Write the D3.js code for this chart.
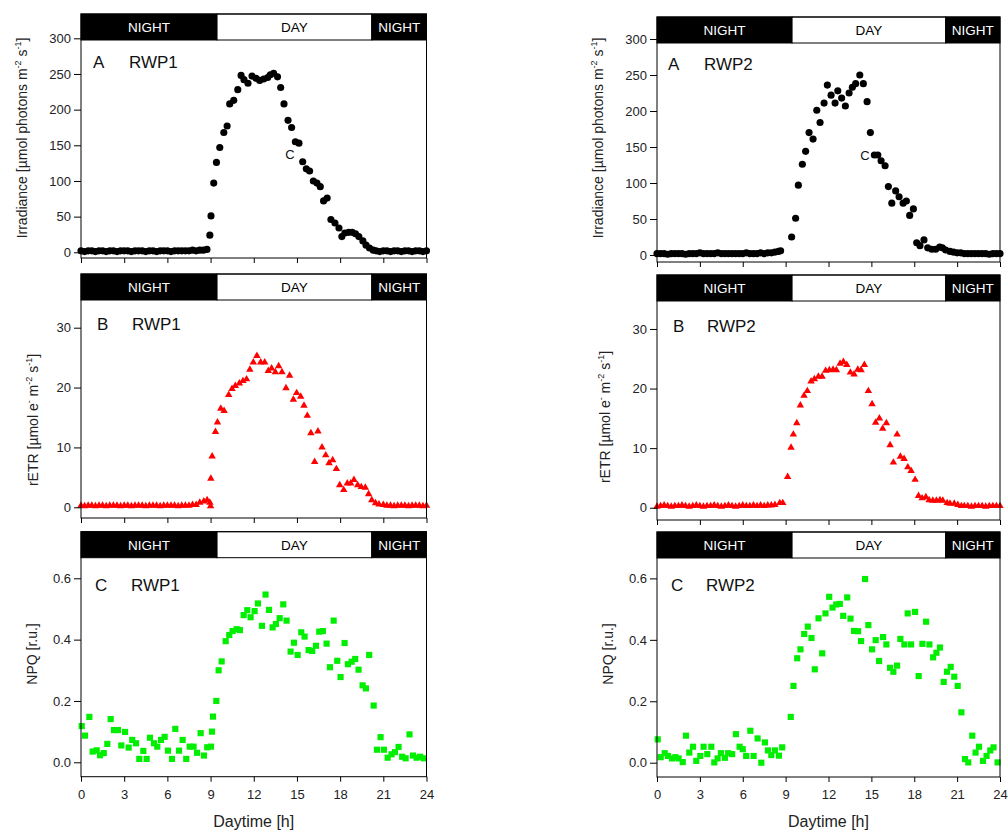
<!DOCTYPE html>
<html><head><meta charset="utf-8">
<script src="https://cdn.jsdelivr.net/npm/d3@7"></script>
<style>body{margin:0;background:#fff}svg{display:block}text{font-family:"Liberation Sans",Arial,sans-serif}</style>
</head><body><svg id="c" width="1008" height="831"></svg>
<script>
// ---------- data ----------
const xTicks = [0,3,6,9,12,15,18,21,24];
const irrTicks = [0,50,100,150,200,250,300];
const etrTicks = [0,10,20,30];
const npqTicks = [0,0.2,0.4,0.6];
const bandLabels = ["NIGHT","DAY","NIGHT"];
const dayStart = 9.45, dayEnd = 20.2;

const irrRWP1 = [[0,2],[0.25,1],[0.5,2],[0.75,2],[1,1],[1.25,2],[1.5,2],[1.75,1],[2,2],[2.25,2],[2.5,1],[2.75,2],[3,2],[3.25,2],[3.5,1],[3.75,2],[4,2],[4.25,2],[4.5,1],[4.75,2],[5,2],[5.25,1],[5.5,2],[5.75,2],[6,2],[6.25,1],[6.5,2],[6.75,2],[7,2],[7.25,2],[7.5,2],[7.75,3],[8,2],[8.25,3],[8.5,3],[8.75,4],
[8.95,24],[9.03,51],[9.22,97],[9.41,126],[9.64,147],[9.92,168],[10.15,177],[10.33,208],[10.61,213],[10.89,228],[11.12,248],[11.32,242],[11.6,237],[11.88,247],[12.16,244],[12.41,241],[12.69,243],[12.97,245],[13.15,249],[13.38,251],[13.65,246],[13.87,231],[14.1,208],[14.38,185],[14.63,175],[14.89,155],[15.14,153],[15.4,127],[15.65,117],[15.88,114],[16.14,100],[16.39,97],[16.62,92],[16.85,72],[17.1,76],[17.36,46],[17.64,41],[17.92,34],[18.12,22],[18.33,27],[18.6,28],[18.84,28],[19.07,26],[19.3,22],[19.58,16],[19.8,10],[20.04,6],[20.3,3],
[20.5,2],[20.75,1],[21,2],[21.25,2],[21.5,1],[21.75,2],[22,2],[22.25,1],[22.5,2],[22.75,2],[23,1],[23.25,2],[23.5,2],[23.75,1],[24,2]];

const irrRWP2 = [[0,2],[0.25,2],[0.5,2],[0.75,1],[1,2],[1.25,2],[1.5,2],[1.75,2],[2,1],[2.25,2],[2.5,2],[2.75,2],[3,3],[3.25,2],[3.5,2],[3.75,2],[4,2],[4.25,3],[4.5,2],[4.75,2],[5,2],[5.25,2],[5.5,2],[5.75,2],[6,2],[6.25,3],[6.5,2],[6.75,2],[7,2],[7.25,3],[7.5,2],[7.75,3],[8,3],[8.25,4],[8.5,5],[8.65,6],
[9.42,25],[9.7,51],[9.89,97],[10.17,126],[10.4,144],[10.64,170],[10.92,161],[11.18,201],[11.41,184],[11.69,211],[11.92,236],[12.18,222],[12.46,211],[12.65,228],[12.92,218],[13.18,207],[13.44,225],[13.67,233],[13.9,238],[14.19,250],[14.44,238],[14.7,213],[14.93,170],[15.21,139],[15.45,139],[15.68,131],[15.96,124],[16.19,95],[16.43,72],[16.7,89],[16.94,81],[17.22,72],[17.45,75],[17.68,55],[17.94,64],[18.17,17],[18.4,13],[18.68,21],[18.94,10],[19.22,8],[19.5,8],[19.78,11],[19.97,10],[20.2,7],[20.5,5],[20.75,4],[21,3],
[21.25,3],[21.5,2],[21.75,2],[22,2],[22.25,2],[22.5,2],[22.75,2],[23,2],[23.25,1],[23.5,2],[23.75,2],[24,2]];

const etrRWP1 = [[0,0.3],[0.25,0.2],[0.5,0.3],[0.75,0.3],[1,0.2],[1.25,0.3],[1.5,0.3],[1.75,0.2],[2,0.3],[2.25,0.3],[2.5,0.3],[2.75,0.2],[3,0.3],[3.25,0.3],[3.5,0.2],[3.75,0.3],[4,0.3],[4.25,0.3],[4.5,0.2],[4.75,0.3],[5,0.3],[5.25,0.3],[5.5,0.2],[5.75,0.3],[6,0.3],[6.25,0.3],[6.5,0.3],[6.75,0.2],[7,0.3],[7.25,0.3],[7.5,0.3],[7.75,0.4],[8,0.4],[8.25,0.8],[8.53,1.0],[8.76,1.2],[8.95,0.8],[9.0,0.2],
[9.02,4.8],[9.11,8.5],[9.34,12.6],[9.48,14.2],[9.71,16.5],[9.94,16.1],[10.26,18.8],[10.49,19.8],[10.72,20.3],[11.0,20.7],[11.25,21.1],[11.5,21.4],[11.73,23.0],[11.97,24.2],[12.22,25.3],[12.48,24.2],[12.76,24.2],[13.01,22.8],[13.24,23.2],[13.5,22.6],[13.73,23.6],[13.96,22.6],[14.24,19.9],[14.49,22.0],[14.75,18.0],[14.98,19.1],[15.26,18.5],[15.49,17.0],[15.72,15.3],[15.97,12.4],[16.23,7.6],[16.46,12.7],[16.74,10.0],[17.0,8.7],[17.23,7.4],[17.48,7.9],[17.74,6.4],[17.97,3.7],[18.25,2.9],[18.5,4.0],[18.73,4.0],[18.96,4.6],[19.22,3.7],[19.47,3.4],[19.75,3.3],[19.98,2.2],[20.2,1.2],[20.46,0.7],[20.7,0.5],[21.0,0.4],
[21.25,0.3],[21.5,0.3],[21.75,0.2],[22,0.3],[22.25,0.3],[22.5,0.3],[22.75,0.2],[23,0.3],[23.25,0.3],[23.5,0.3],[23.75,0.2],[24,0.3]];

const etrRWP2 = [[0,0.2],[0.25,0.3],[0.5,0.4],[0.75,0.3],[1,0.2],[1.25,0.3],[1.5,0.3],[1.75,0.4],[2,0.3],[2.25,0.2],[2.5,0.3],[2.75,0.4],[3,0.3],[3.25,0.2],[3.5,0.3],[3.75,0.3],[4,0.4],[4.25,0.3],[4.5,0.2],[4.75,0.3],[5,0.4],[5.25,0.3],[5.5,0.2],[5.75,0.3],[6,0.4],[6.25,0.3],[6.5,0.3],[6.75,0.4],[7,0.3],[7.25,0.4],[7.5,0.3],[7.75,0.4],[8,0.4],[8.25,0.5],[8.59,0.8],[8.8,0.8],
[9.14,5.2],[9.38,10.1],[9.54,12.3],[9.78,14.2],[10.03,17.2],[10.29,18.8],[10.52,19.6],[10.78,21.2],[11.01,21.6],[11.29,22.0],[11.55,22.0],[11.8,23.0],[12.06,23.1],[12.32,23.2],[12.55,23.1],[12.81,24.2],[13.04,24.5],[13.28,24.0],[13.53,22.7],[13.79,22.4],[14.05,23.2],[14.28,23.1],[14.51,24.0],[14.79,19.6],[15.05,17.4],[15.3,14.3],[15.56,15.0],[15.79,13.3],[16.05,14.2],[16.31,10.5],[16.54,7.6],[16.8,12.3],[17.03,8.6],[17.29,8.2],[17.55,6.8],[17.78,6.2],[18.06,4.7],[18.3,2.0],[18.55,1.6],[18.81,1.8],[19.04,1.3],[19.3,1.2],[19.55,1.2],[19.8,1.3],[20.0,1.2],[20.3,0.8],[20.5,0.7],[20.8,0.7],[21.05,0.5],[21.3,0.3],
[21.5,0.3],[21.75,0.3],[22,0.2],[22.25,0.3],[22.5,0.3],[22.75,0.3],[23,0.2],[23.25,0.3],[23.5,0.3],[23.75,0.3],[24,0.3]];

const npqRWP1 = [[0.05,0.118],[0.28,0.087],[0.58,0.148],[0.81,0.035],[1.09,0.039],[1.32,0.023],[1.58,0.03],[1.83,0.06],[2.06,0.141],[2.29,0.105],[2.57,0.105],[2.8,0.055],[3.06,0.099],[3.31,0.048],[3.56,0.073],[3.82,0.062],[4.05,0.011],[4.33,0.037],[4.56,0.011],[4.79,0.08],[5.07,0.062],[5.3,0.051],[5.56,0.073],[5.81,0.083],[6.04,0.038],[6.32,0.011],[6.55,0.109],[6.81,0.038],[7.06,0.073],[7.31,0.011],[7.55,0.051],[7.82,0.051],[8.06,0.031],[8.31,0.095],[8.54,0.022],[8.77,0.049],[9.03,0.051],[9.1,0.1],[9.17,0.149],[9.4,0.2],[9.56,0.3],[9.77,0.329],[10.05,0.395],[10.3,0.415],[10.53,0.428],[10.81,0.434],[11.04,0.431],[11.3,0.48],[11.55,0.496],[11.78,0.473],[12.06,0.493],[12.29,0.518],[12.57,0.445],[12.82,0.547],[13.06,0.497],[13.31,0.44],[13.54,0.451],[13.8,0.47],[14.05,0.515],[14.28,0.462],[14.56,0.361],[14.79,0.39],[15.05,0.35],[15.3,0.424],[15.53,0.41],[15.81,0.366],[16.06,0.363],[16.32,0.38],[16.55,0.426],[16.8,0.428],[17.06,0.387],[17.29,0.31],[17.55,0.462],[17.8,0.331],[18.03,0.278],[18.31,0.389],[18.54,0.32],[18.8,0.328],[19.05,0.337],[19.28,0.302],[19.56,0.251],[19.79,0.241],[20.02,0.35],[20.33,0.185],[20.56,0.041],[20.81,0.082],[21.04,0.041],[21.3,0.015],[21.57,0.026],[21.81,0.033],[22.06,0.05],[22.31,0.018],[22.55,0.013],[22.82,0.091],[23.06,0.022],[23.31,0.015],[23.56,0.018],[23.8,0.013]];

const npqRWP2 = [[0.05,0.076],[0.26,0.018],[0.54,0.031],[0.77,0.022],[1.05,0.014],[1.28,0.018],[1.51,0.014],[1.8,0.002],[2.03,0.088],[2.26,0.033],[2.52,0.052],[2.75,0.006],[3.03,0.022],[3.26,0.052],[3.52,0.028],[3.8,0.052],[4.01,0.001],[4.24,0.014],[4.47,0.031],[4.75,0.016],[4.98,0.031],[5.26,0.028],[5.52,0.093],[5.78,0.052],[6.0,0.044],[6.24,0.022],[6.53,0.104],[6.76,0.022],[7.04,0.079],[7.3,0.0],[7.55,0.066],[7.76,0.04],[8.0,0.025],[8.25,0.04],[8.53,0.023],[8.76,0.05],[9.36,0.149],[9.55,0.25],[9.81,0.34],[10.04,0.369],[10.3,0.419],[10.55,0.443],[10.81,0.406],[11.04,0.304],[11.3,0.47],[11.56,0.356],[11.79,0.486],[12.05,0.54],[12.28,0.505],[12.54,0.515],[12.79,0.517],[13.03,0.478],[13.31,0.538],[13.54,0.469],[13.79,0.429],[14.07,0.428],[14.28,0.396],[14.56,0.598],[14.79,0.448],[15.05,0.369],[15.3,0.399],[15.54,0.331],[15.82,0.409],[16.05,0.385],[16.31,0.309],[16.54,0.296],[16.8,0.316],[17.03,0.403],[17.31,0.385],[17.54,0.486],[17.78,0.385],[18.06,0.491],[18.31,0.282],[18.57,0.387],[18.83,0.459],[19.06,0.385],[19.32,0.343],[19.55,0.358],[19.8,0.375],[20.06,0.263],[20.29,0.296],[20.55,0.312],[20.8,0.28],[21.04,0.25],[21.3,0.164],[21.55,0.012],[21.78,0.001],[22.06,0.088],[22.29,0.033],[22.53,0.052],[22.81,0.006],[23.06,0.022],[23.32,0.04],[23.55,0.05],[23.83,0.001]];

// ---------- layout / styles ----------
const irrTitle = [["Irradiance [µmol photons m"],["-2",1],[" s"],["-1",1],["]"]];
const etrTitle = [["rETR [µmol e"],["-",1],[" m"],["-2",1],[" s"],["-1",1],["]"]];
const npqTitle = [["NPQ [r.u.]"]];

const panels = [
 {data:irrRWP1,x0:81,x1:426.5,top:14,bottom:258,dom:[-8,334.1],ticks:irrTicks,fmt:d3.format("d"),sym:d3.symbolCircle,size:40,color:"#000",letter:"A",name:"RWP1",lx:93,ly:68,nx:129,title:irrTitle,tx:22,ty:138,xlab:false,extra:{t:"C",x:290,y:159}},
 {data:irrRWP2,x0:657,x1:1000,top:17,bottom:262,dom:[-9.7,330.6],ticks:irrTicks,fmt:d3.format("d"),sym:d3.symbolCircle,size:40,color:"#000",letter:"A",name:"RWP2",lx:668,ly:70,nx:704,title:irrTitle,tx:598,ty:138,xlab:false,extra:{t:"C",x:865,y:160}},
 {data:etrRWP1,x0:81,x1:426.5,top:274,bottom:518,dom:[-1.79,38.97],ticks:etrTicks,fmt:d3.format("d"),sym:d3.symbolTriangle,size:24,color:"#ff0000",letter:"B",name:"RWP1",lx:97,ly:330,nx:132,title:etrTitle,tx:33,ty:420,xlab:false},
 {data:etrRWP2,x0:657,x1:1000,top:275,bottom:520,dom:[-2.06,39.06],ticks:etrTicks,fmt:d3.format("d"),sym:d3.symbolTriangle,size:24,color:"#ff0000",letter:"B",name:"RWP2",lx:673,ly:332,nx:707,title:etrTitle,tx:605,ty:417,xlab:false},
 {data:npqRWP1,x0:81,x1:426.5,top:531.7,bottom:776.7,dom:[-0.047,0.752],ticks:npqTicks,fmt:d3.format(".1f"),sym:d3.symbolSquare,size:38,color:"#00ee00",letter:"C",name:"RWP1",lx:95,ly:591,nx:131,title:npqTitle,tx:32,ty:654,xlab:true},
 {data:npqRWP2,x0:657,x1:1000,top:532,bottom:777,dom:[-0.0465,0.751],ticks:npqTicks,fmt:d3.format(".1f"),sym:d3.symbolSquare,size:38,color:"#00ee00",letter:"C",name:"RWP2",lx:671,ly:591,nx:706,title:npqTitle,tx:608,ty:654,xlab:true}
];
const bandH = 26;
const textCol = "#222";

const svg = d3.select("#c");
svg.append("rect").attr("width",1008).attr("height",831).attr("fill","#fff");

panels.forEach(p => {
  const x = d3.scaleLinear().domain([0,24]).range([p.x0,p.x1]);
  const y = d3.scaleLinear().domain(p.dom).range([p.bottom,p.top]);
  const g = svg.append("g");

  // points
  const sym = d3.symbol().type(p.sym).size(p.size);
  g.append("g").selectAll("path").data(p.data).join("path")
    .attr("d", sym)
    .attr("transform", d => `translate(${x(d[0])},${y(d[1])})`)
    .attr("fill", p.color);

  // day/night band
  const segs = [[0,dayStart,"#000","#fff"],[dayStart,dayEnd,"#fff","#000"],[dayEnd,24,"#000","#fff"]];
  segs.forEach((s,i) => {
    g.append("rect").attr("x",x(s[0])).attr("y",p.top).attr("width",x(s[1])-x(s[0])).attr("height",bandH)
      .attr("fill",s[2]).attr("stroke","#000").attr("stroke-width",1);
    g.append("text").attr("x",(x(s[0])+x(s[1]))/2).attr("y",p.top+bandH/2).attr("dy","0.36em")
      .attr("text-anchor","middle").attr("font-size",13.5).attr("fill",s[3]).text(bandLabels[i]);
  });

  // frame
  g.append("rect").attr("x",p.x0).attr("y",p.top).attr("width",p.x1-p.x0).attr("height",p.bottom-p.top)
    .attr("fill","none").attr("stroke","#000").attr("stroke-width",1);

  // axes
  const xa = d3.axisBottom(x).tickValues(xTicks).tickSize(5).tickPadding(8)
    .tickFormat(p.xlab ? d3.format("d") : () => "");
  const gx = g.append("g").attr("transform",`translate(0,${p.bottom})`).call(xa);
  const ya = d3.axisLeft(y).tickValues(p.ticks).tickSize(7).tickPadding(3).tickFormat(p.fmt);
  const gy = g.append("g").attr("transform",`translate(${p.x0},0)`).call(ya);
  [gx,gy].forEach(a => {
    a.select(".domain").remove();
    a.selectAll("line").attr("stroke","#000");
    a.selectAll("text").attr("font-size",13).attr("fill",textCol).attr("font-family","Liberation Sans, Arial, sans-serif");
  });

  // y title
  const t = g.append("text").attr("transform",`translate(${p.tx},${p.ty}) rotate(-90)`)
    .attr("text-anchor","middle").attr("dy","0.35em").attr("font-size",14).attr("fill",textCol);
  let up = false;
  p.title.forEach(seg => {
    const ts = t.append("tspan").text(seg[0]);
    if (seg[1]) { ts.attr("font-size",9).attr("dy",-6); up = true; }
    else if (up) { ts.attr("dy",6); up = false; }
  });

  // panel labels
  g.append("text").attr("x",p.lx).attr("y",p.ly).attr("font-size",17).attr("fill","#111").text(p.letter);
  g.append("text").attr("x",p.nx).attr("y",p.ly).attr("font-size",17).attr("fill","#111").text(p.name);
  if (p.extra) g.append("text").attr("x",p.extra.x).attr("y",p.extra.y).attr("text-anchor","middle")
    .attr("font-size",13).attr("fill","#111").text(p.extra.t);

  if (p.xlab) g.append("text").attr("x",(p.x0+p.x1)/2).attr("y",827).attr("text-anchor","middle")
    .attr("font-size",16).attr("fill",textCol).text("Daytime [h]");
});
</script></body></html>
